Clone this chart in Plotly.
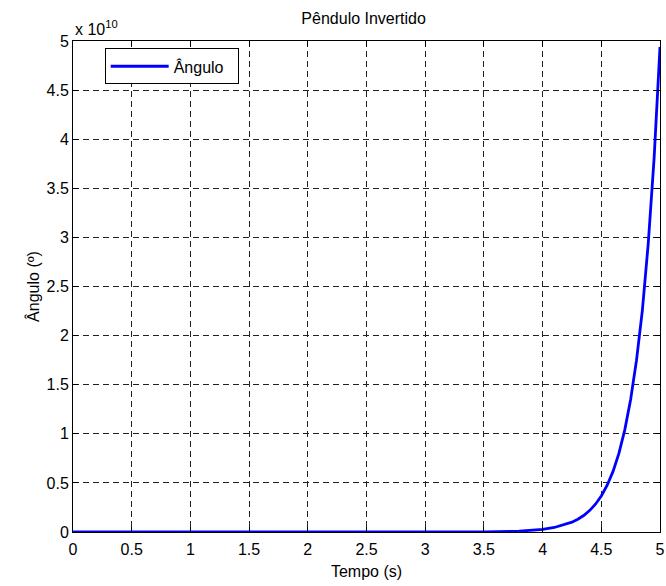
import plotly.graph_objects as go

# Data (angle in units of 1e10 degrees)
time_s = [0.0, 0.5, 1.0, 1.5, 2.0, 2.5, 3.0, 3.5, 3.8, 3.9, 4.0, 4.1, 4.2, 4.25, 4.3, 4.35,
          4.4, 4.45, 4.5, 4.55, 4.6, 4.65, 4.7, 4.75, 4.8, 4.85, 4.9, 4.95, 5.0]
angle_e10 = [0.0, 0.0, 0.0, 0.0, 0.0, 0.0, 0.0, 0.001, 0.008, 0.016, 0.027, 0.046, 0.077, 0.10,
             0.13, 0.168, 0.218, 0.283, 0.367, 0.476, 0.617, 0.80, 1.04, 1.35, 1.75, 2.26,
             2.94, 3.81, 4.94]

x_ticks = [0, 0.5, 1, 1.5, 2, 2.5, 3, 3.5, 4, 4.5, 5]
y_ticks = [0, 0.5, 1, 1.5, 2, 2.5, 3, 3.5, 4, 4.5, 5]
x_labels = ["0", "0.5", "1", "1.5", "2", "2.5", "3", "3.5", "4", "4.5", "5"]
y_labels = ["0", "0.5", "1", "1.5", "2", "2.5", "3", "3.5", "4", "4.5", "5"]

FAM = "Liberation Sans, Arial, sans-serif"
FS = 16
font = dict(family=FAM, size=FS, color="black")

fig = go.Figure()
fig.add_trace(go.Scatter(x=time_s, y=angle_e10, mode="lines", name="Ângulo  ",
                         line=dict(color="#0000ff", width=2.8)))

axis_common = dict(
    showline=True, linecolor="black", linewidth=1, mirror="ticks",
    ticks="inside", ticklen=5, tickcolor="black", tickwidth=1,
    showgrid=True, gridcolor="#222222", gridwidth=1, griddash="6px,4px",
    zeroline=False, tickfont=font,
)

fig.update_layout(
    width=666, height=586,
    margin=dict(l=73, r=6, t=41, b=54, autoexpand=False),
    paper_bgcolor="white", plot_bgcolor="white",
    font=font,
    title=dict(text="Pêndulo Invertido", x=0.546, xanchor="center", y=0.969, yanchor="middle",
               font=dict(family=FAM, size=FS, color="black")),
    showlegend=True,
    legend=dict(x=0.054, y=0.985, xanchor="left", yanchor="top",
                bgcolor="white", bordercolor="black", borderwidth=1,
                font=dict(family=FAM, size=FS, color="black"),
                itemwidth=58),
    xaxis=dict(axis_common, range=[0, 5], tickvals=x_ticks, ticktext=x_labels,
               ticklabelstandoff=3,
               title=dict(text="Tempo (s)", font=dict(family=FAM, size=FS), standoff=8)),
    yaxis=dict(axis_common, range=[0, 5], tickvals=y_ticks, ticktext=y_labels,
               title=dict(text="Ângulo (º)", font=dict(family=FAM, size=FS), standoff=2)),
)

fig.add_annotation(text="x 10<sup>10</sup>", xref="paper", yref="paper", x=0.0, y=1.0,
                   xanchor="left", yanchor="bottom", yshift=1, showarrow=False,
                   font=dict(family=FAM, size=FS, color="black"))

fig.write_html("out.html", config={"displayModeBar": False},
               post_script="document.body.style.margin='0px';")
